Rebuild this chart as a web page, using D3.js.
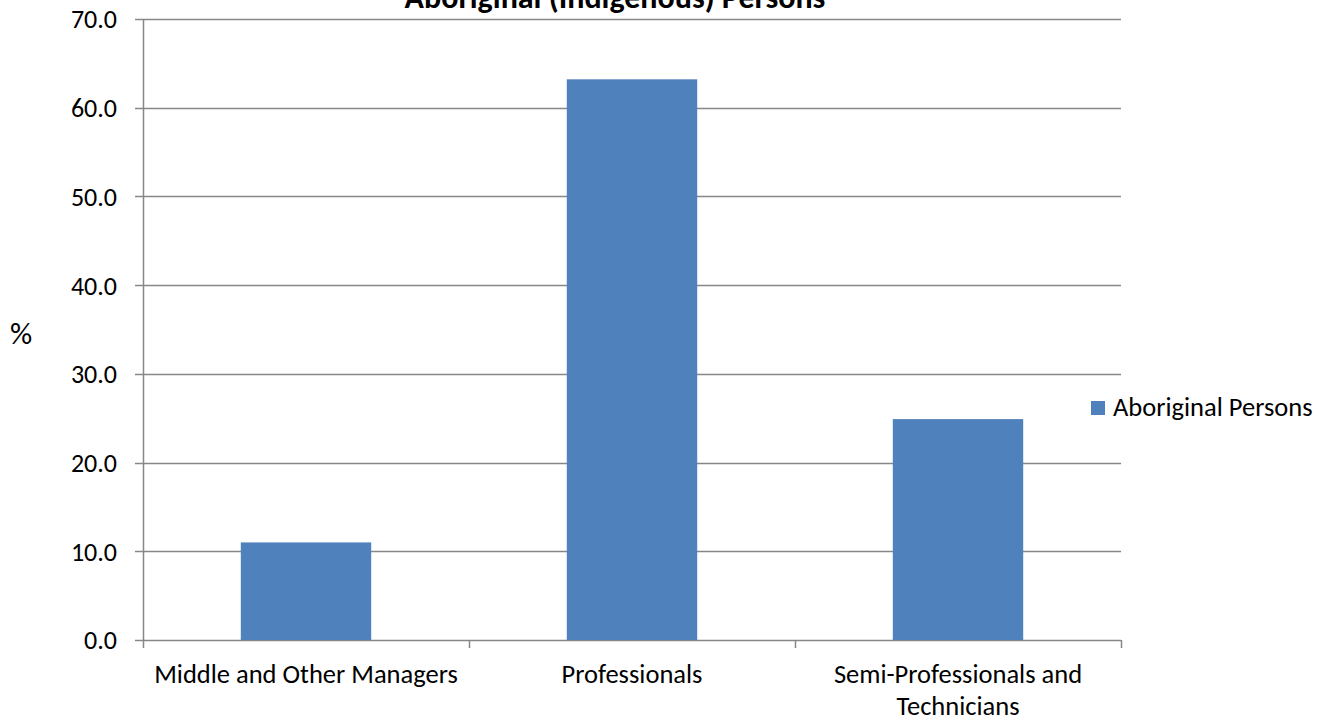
<!DOCTYPE html>
<html>
<head>
<meta charset="utf-8">
<script src="https://cdn.jsdelivr.net/npm/d3@7"></script>
<style>
  body { margin: 0; background: #fff; }
  text { font-family: Carlito, Calibri, Lato, sans-serif; fill: #000; }
</style>
</head>
<body>
<script>
//data
var categories = ["Middle and Other Managers", "Professionals", "Semi-Professionals and Technicians"];
var values = [11.0, 63.2, 24.9];
var seriesName = "Aboriginal Persons";
var yTicks = [0, 10, 20, 30, 40, 50, 60, 70];
var title = "Aboriginal (Indigenous) Persons";

//sizes (plotTop instead of top, window.top is read only)
var width = 1329;
var height = 721;
var plotLeft = 143, plotRight = 1121, plotTop = 19, plotBottom = 640;
var gray = "#878787";
var barColor = "#4f81bd";

var svg = d3.select("body").append("svg")
    .attr("width", width)
    .attr("height", height);

var x = d3.scaleBand()
    .domain(categories)
    .range([plotLeft, plotRight])
    .paddingInner(0.6)
    .paddingOuter(0.3);

var y = d3.scaleLinear()
    .domain([0, 70])
    .range([plotBottom, plotTop]);

//gridlines
svg.append("g").selectAll("line")
    .data(yTicks)
    .enter()
    .append("line")
    .attr("x1", plotLeft - 8)
    .attr("x2", plotRight)
    .attr("y1", function (d) { return Math.round(y(d)) + 0.5 })
    .attr("y2", function (d) { return Math.round(y(d)) + 0.5 })
    .attr("stroke", gray)
    .attr("stroke-width", 1.5);

//y labels
svg.append("g").selectAll("text")
    .data(yTicks)
    .enter()
    .append("text")
    .attr("x", 117)
    .attr("y", function (d) { return y(d) })
    .attr("dy", "0.36em")
    .attr("text-anchor", "end")
    .style("font-size", "26px")
    .text(function (d) { return d.toFixed(1) });

//bars
svg.append("g").selectAll("rect")
    .data(values)
    .enter()
    .append("rect")
    .attr("x", function (d, i) { return x(categories[i]) })
    .attr("width", x.bandwidth())
    .attr("y", function (d) { return y(d) })
    .attr("height", function (d) { return y(0) - y(d) })
    .attr("fill", barColor);

//y axis line
svg.append("line")
    .attr("x1", plotLeft + 0.5).attr("x2", plotLeft + 0.5)
    .attr("y1", plotTop).attr("y2", plotBottom)
    .attr("stroke", gray)
    .attr("stroke-width", 1.5);

//x axis ticks at band edges
var edges = categories.map(function (c) { return x(c) - x.step() * x.paddingInner() / 2 });
edges.push(plotRight);
edges[0] = plotLeft;
svg.append("g").selectAll("line")
    .data(edges)
    .enter()
    .append("line")
    .attr("x1", function (d) { return Math.round(d) + 0.5 })
    .attr("x2", function (d) { return Math.round(d) + 0.5 })
    .attr("y1", plotBottom)
    .attr("y2", plotBottom + 8)
    .attr("stroke", gray)
    .attr("stroke-width", 1.5);

//category labels, wrapped like the original
var catLines = [["Middle and Other Managers"], ["Professionals"], ["Semi-Professionals and", "Technicians"]];
var catText = svg.append("g").selectAll("text")
    .data(categories)
    .enter()
    .append("text")
    .attr("x", function (d) { return x(d) + x.bandwidth() / 2 })
    .attr("y", 683)
    .attr("text-anchor", "middle")
    .style("font-size", "26.5px");
catText.each(function (d, i) {
    d3.select(this).selectAll("tspan")
        .data(catLines[i])
        .enter()
        .append("tspan")
        .attr("x", x(d) + x.bandwidth() / 2)
        .attr("dy", function (t, j) { return j == 0 ? 0 : 32 })
        .text(function (t) { return t });
});

//title
svg.append("text")
    .attr("x", 615)
    .attr("y", 8)
    .attr("text-anchor", "middle")
    .style("font-size", "32px")
    .style("font-weight", "bold")
    .text(title);

//y axis title
svg.append("text")
    .attr("x", 10)
    .attr("y", 344)
    .style("font-size", "31px")
    .text("%");

//legend
svg.append("rect")
    .attr("x", 1091)
    .attr("y", 401)
    .attr("width", 14)
    .attr("height", 14)
    .attr("fill", barColor);
svg.append("text")
    .attr("x", 1113)
    .attr("y", 416)
    .style("font-size", "26.5px")
    .text(seriesName);
</script>
</body>
</html>
